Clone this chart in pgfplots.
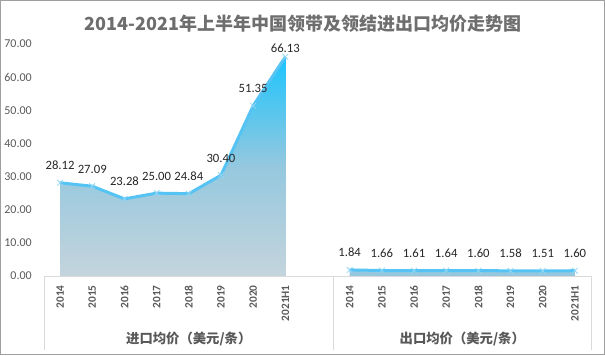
\documentclass[border=0pt]{standalone}
\usepackage{fontspec}
\setmainfont{Carlito}
\newfontfamily\cjk{Noto Sans CJK SC}
\usepackage{pgfplots}
\pgfplotsset{compat=1.18}
\definecolor{txt}{HTML}{595959}
\definecolor{ttl}{HTML}{6E6E6E}
\definecolor{ln}{HTML}{55C3F3}
\definecolor{mk}{HTML}{8FD6F5}
\definecolor{gtop}{HTML}{1CC4FD}
\definecolor{gmid}{HTML}{95C8DE}
\definecolor{gbot}{HTML}{C4D4DD}
\definecolor{axl}{HTML}{D9D9D9}
\begin{document}
\begin{tikzpicture}
\path[use as bounding box] (0,0) rectangle (453.75pt,266.25pt);
\draw[gray!75, line width=0.75pt] (0.375pt,0.375pt) rectangle (453.375pt,265.875pt);
\node[font=\cjk\bfseries\fontsize{13.5}{15}\selectfont, text=ttl] at (227.25pt,248.25pt) {2014-2021年上半年中国领带及领结进出口均价走势图};
\begin{axis}[
  at={(33pt,59.25pt)}, anchor=south west,
  scale only axis, width=410.25pt, height=174pt,
  xmin=-0.5, xmax=16.5, ymin=0, ymax=70,
  clip=false,
  axis line style={draw=none},
  major tick length=0pt,
  xtick={0,1,2,3,4,5,6,7,9,10,11,12,13,14,15,16},
  xticklabels={2014,2015,2016,2017,2018,2019,2020,2021H1,2014,2015,2016,2017,2018,2019,2020,2021H1},
  ytick={0,10,...,70},
  /pgf/number format/assume math mode=true,
  yticklabel style={/pgf/number format/fixed,/pgf/number format/fixed zerofill,/pgf/number format/precision=2,
    font=\fontsize{9}{10}\selectfont, text=txt, anchor=east, inner sep=0pt},
  yticklabel shift=9pt,
  xticklabel style={font=\bfseries\fontsize{8.5}{9}\selectfont, text=txt, rotate=90, anchor=east, inner sep=0pt},
  xticklabel shift=6.75pt,
  every node near coord/.append style={font=\fontsize{9.5}{10}\selectfont, text=black!85, inner sep=0pt, yshift=9.5pt},
]
\addplot[draw=none, top color=gtop, bottom color=gbot, middle color=gmid] coordinates {(0,28.12) (1,27.09) (2,23.28) (3,25.00) (4,24.84) (5,30.40) (6,51.35) (7,66.13)} \closedcycle;
\addplot[draw=none, fill=gmid] coordinates {(9,1.84) (10,1.66) (11,1.61) (12,1.64) (13,1.60) (14,1.58) (15,1.51) (16,1.60)} \closedcycle;
\draw[axl, line width=0.75pt] (axis cs:-0.5,0) -- (axis cs:16.5,0);
\draw[axl, line width=0.75pt] (axis cs:-0.5,0) -- ++(0pt,-55.5pt);
\draw[axl, line width=0.75pt] (axis cs:8.5,0) -- ++(0pt,-55.5pt);
\draw[axl, line width=0.75pt] (axis cs:16.5,0) -- ++(0pt,-55.5pt);
\addplot[ln, line width=2.25pt, mark=x, mark size=3pt, mark options={mk, line width=0.6pt}] coordinates {(0,28.12) (1,27.09) (2,23.28) (3,25.00) (4,24.84) (5,30.40) (6,51.35) (7,66.13)};
\addplot[ln, line width=2.25pt, mark=x, mark size=3pt, mark options={mk, line width=0.6pt}] coordinates {(9,1.84) (10,1.66) (11,1.61) (12,1.64) (13,1.60) (14,1.58) (15,1.51) (16,1.60)};
\addplot[draw=none, mark=none, point meta=explicit symbolic, nodes near coords] coordinates {(0,28.12)[28.12] (1,27.09)[27.09] (2,23.28)[23.28] (3,25.00)[25.00] (4,24.84)[24.84] (5,30.40)[30.40] (6,51.35)[51.35] (9,1.84)[1.84] (10,1.66)[1.66] (11,1.61)[1.61] (12,1.64)[1.64] (13,1.60)[1.60] (14,1.58)[1.58] (15,1.51)[1.51] (16,1.60)[1.60]};
\addplot[draw=none, mark=none, point meta=explicit symbolic, nodes near coords, every node near coord/.append style={yshift=-6.5pt}] coordinates {(7,66.13)[66.13]};
\node[font=\cjk\bfseries\fontsize{10}{12}\selectfont, text=txt] at ([yshift=-47.25pt]axis cs:4,0) {进口均价（美元/条）};
\node[font=\cjk\bfseries\fontsize{10}{12}\selectfont, text=txt] at ([yshift=-47.25pt]axis cs:12.5,0) {出口均价（美元/条）};
\end{axis}
\end{tikzpicture}
\end{document}
